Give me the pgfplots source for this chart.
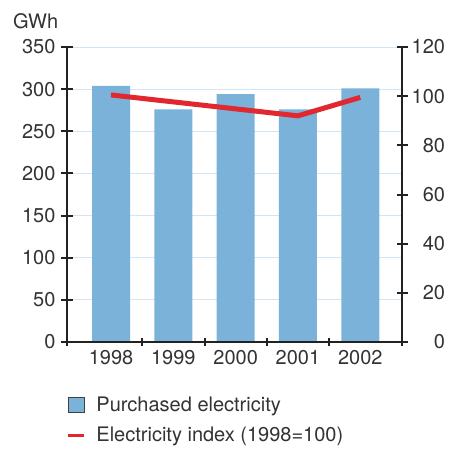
\documentclass[border=0pt]{standalone}
\usepackage{pgfplots}
\pgfplotsset{compat=1.18}
\usepackage{fontspec}
\setmainfont{TeX Gyre Heros}
\definecolor{barblue}{HTML}{7BB2DA}
\definecolor{idxred}{HTML}{E0282E}
\definecolor{gridblue}{HTML}{D2E5F4}
\definecolor{axisblack}{HTML}{222222}
\definecolor{txt}{HTML}{333333}
\begin{document}
\begin{tikzpicture}[font=\fontsize{20}{24}\selectfont]
\useasboundingbox (-67pt,-106pt) rectangle (391pt,342pt);
\pgfplotsset{
 base/.style={
  scale only axis, width=335pt, height=295pt, at={(0pt,0pt)}, anchor=south west,
  xmin=-0.707, xmax=4.67,
  /pgf/number format/assume math mode=true,
  tick align=outside,
  tick style={draw=axisblack, line width=2pt},
  ticklabel style={text=txt},
 },
 lines/.style={
  axis line style={-, draw=axisblack, line width=2pt},
  every outer x axis line/.append style={-},
  every outer y axis line/.append style={-},
  every inner x axis line/.append style={-},
  every inner y axis line/.append style={-},
 }
}
% left axis with bars
\begin{axis}[base, name=ax1,
  ymin=0, ymax=350, ytick={0,50,...,350},
  axis x line=bottom, axis y line=left, lines,
  ymajorgrids, grid style={gridblue, line width=1pt},
  major tick length=12pt,
  xtick={0,1,2,3,4}, xticklabels={1998,1999,2000,2001,2002},
  xtick style={draw=none},
  xticklabel style={yshift=1pt},
  yticklabel style={xshift=-2pt},
]
\addplot[ybar, bar width=38pt, fill=barblue, draw=none] coordinates {(0,304) (1,276) (2,294) (3,276) (4,301)};
\end{axis}
% boundary ticks on x axis
\begin{axis}[base,
  ymin=0, ymax=350,
  axis x line=bottom, axis y line=none, lines,
  major tick length=8pt,
  xtick={-0.707,0.5,1.5,2.5,3.5,4.67}, xticklabels={},
]
\end{axis}
% right axis with index line
\begin{axis}[base,
  ymin=0, ymax=120, ytick={0,20,...,120},
  axis y line=right, axis x line=none, lines,
  major tick length=11pt,
  yticklabel={\makebox[34pt][r]{\pgfmathprintnumber{\tick}}},
  legend style={at={(rel axis cs:0,0)}, anchor=north west, draw=none, fill=none,
    inner sep=0pt, yshift=-53pt, xshift=0pt, row sep=10pt,
    font=\fontsize{20}{24}\selectfont, text=txt},
  legend cell align=left,
]
\addlegendimage{legend image code/.code={\draw[fill=barblue, draw=black!75, line width=0.8pt] (0pt,-7.5pt) rectangle (16pt,7.5pt); \path[draw=none, fill=none] (0pt,0pt) rectangle (26pt,0pt);}}
\addlegendentry{Purchased electricity}
\addplot[idxred, line width=5pt, line join=round, legend image code/.code={\draw[idxred, line width=2.5pt] (0pt,0pt) -- (16pt,0pt); \path[draw=none, fill=none] (0pt,0pt) rectangle (26pt,0pt);}] coordinates {(0,100.5) (3,92) (4,99.5)};
\addlegendentry{Electricity index (1998=100)}
\end{axis}
\node[anchor=base west, inner sep=0pt, text=txt] at (-54pt,313pt) {GWh};
\end{tikzpicture}
\end{document}
